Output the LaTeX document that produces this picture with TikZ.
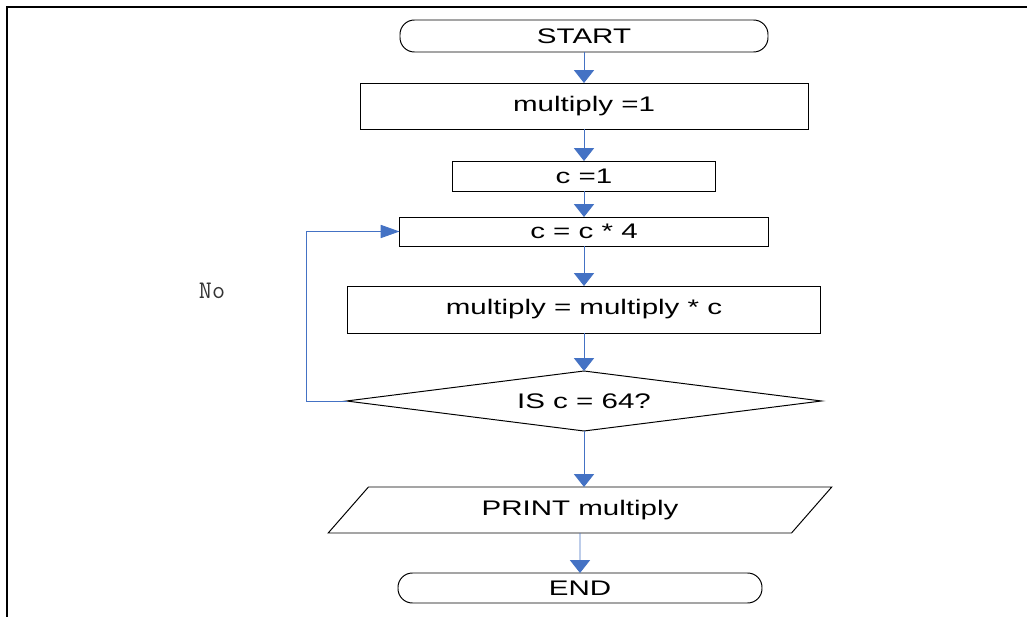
\documentclass[tikz,border=0pt]{standalone}
\usepackage{fontspec}
\setmainfont{Liberation Sans}[FakeStretch=1.4]
\usepackage{tikz}
\usetikzlibrary{positioning, arrows.meta, shapes.geometric}
\definecolor{flowblue}{HTML}{4472C4}

\begin{document}
\begin{tikzpicture}[
    font=\fontsize{15}{18}\selectfont,
    terminal/.style={draw, line width=0.7pt, rounded corners=0.36cm, inner sep=2pt, outer sep=0pt, align=center},
    process/.style={draw, line width=0.7pt, inner sep=2pt, outer sep=0pt, align=center},
    decision/.style={draw, line width=0.7pt, diamond, shape aspect=8, inner sep=0pt, outer sep=0pt},
    io/.style={draw, line width=0.7pt, trapezium, trapezium left angle=52.7, trapezium right angle=127.3, trapezium stretches=true, inner sep=2pt, outer sep=0pt},
    arrow/.style={-{Triangle[width=0.5cm, length=0.32cm]}, color=flowblue, line width=0.6pt},
    backarrow/.style={-{Triangle[width=0.33cm, length=0.47cm]}, color=flowblue, line width=0.6pt}
]
\useasboundingbox (0,0) rectangle (25.675,-15.425);
\draw[line width=1.6pt] (0.175,-15.425) -- (0.175,-0.175) -- (25.675,-0.175);

\node[terminal, minimum width=9.2cm, minimum height=0.8cm] (start) at (14.6,-0.9) {START};
\node[process, minimum width=11.2cm, minimum height=1.15cm, below=0.775cm of start] (mult1) {multiply =1};
\node[process, minimum width=6.575cm, minimum height=0.75cm, below=0.8cm of mult1] (c1) {c =1};
\node[process, minimum width=9.225cm, minimum height=0.725cm, below=0.65cm of c1] (c4) {c = c * 4};
\node[process, minimum width=11.825cm, minimum height=1.175cm, below=1cm of c4] (multc) {multiply = multiply * c};
\node[decision, minimum width=11.875cm, minimum height=1.5cm, below=0.95cm of multc] (check) {IS c = 64?};
\node[io, minimum width=12.6cm, minimum height=1.15cm, below=1.4cm of check, xshift=-0.1cm] (print) {PRINT multiply};
\node[terminal, minimum width=9.1cm, minimum height=0.75cm, below=1cm of print] (end) {END};

\node[font=\ttfamily\fontsize{18}{21}\selectfont, text=black!80] (no) at (5.3,-7.275) {No};

\draw[arrow] (start) -- (mult1);
\draw[arrow] (mult1) -- (c1);
\draw[arrow] (c1) -- (c4);
\draw[arrow] (c4) -- (multc);
\draw[arrow] (multc) -- (check);
\draw[arrow] (check.south) -- (check.south |- print.north);
\draw[arrow] (print) -- (end);
\draw[backarrow] (check.west) -- ++(-1,0) |- (c4.west);

\end{tikzpicture}
\end{document}
